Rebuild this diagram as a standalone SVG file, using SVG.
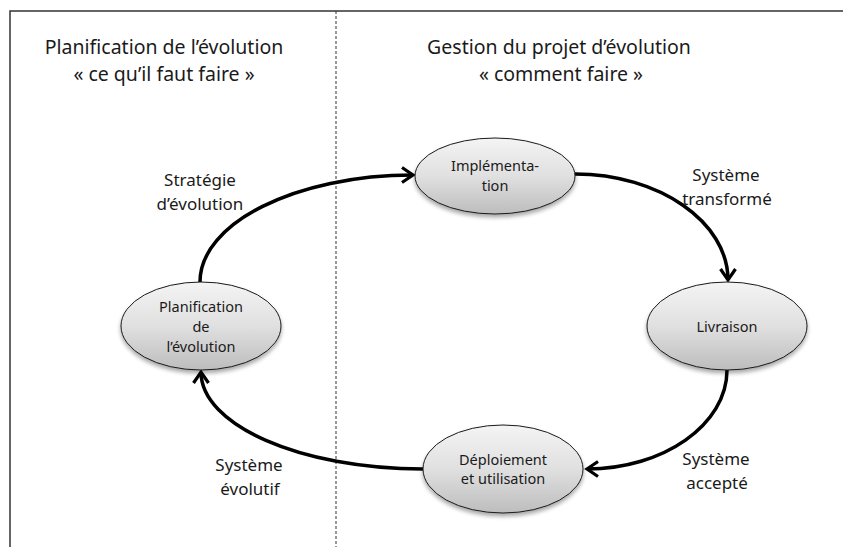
<svg xmlns="http://www.w3.org/2000/svg" width="843" height="547" viewBox="0 0 843 547">
<style>
  text { font-family: "Noto Sans", "Open Sans", "Liberation Sans", sans-serif; fill: #1a1a1a; text-anchor: middle; }
  .title { font-size: 19.5px; }
  .label { font-size: 17px; }
  .node-text { font-size: 14.5px; }
  .node ellipse { fill: url(#nodeGrad); stroke: #1a1a1a; stroke-width: 1; filter: url(#shadow); }
  .conn { fill: none; stroke: #000; stroke-width: 3.5; marker-end: url(#arrow); }
  .frame { stroke: #333; stroke-width: 1.5; fill: none; }
  .divider { stroke: #333; stroke-width: 1; stroke-dasharray: 3 2; fill: none; }
</style>
<defs>
  <linearGradient id="nodeGrad" x1="0" y1="0" x2="0" y2="1">
    <stop offset="0" stop-color="#f4f4f4"/>
    <stop offset="0.5" stop-color="#e0e0e0"/>
    <stop offset="1" stop-color="#bdbdbd"/>
  </linearGradient>
  <filter id="shadow" x="-20%" y="-20%" width="140%" height="150%">
    <feGaussianBlur in="SourceAlpha" stdDeviation="2"/>
    <feOffset dx="0" dy="3" result="b"/>
    <feComponentTransfer><feFuncA type="linear" slope="0.35"/></feComponentTransfer>
    <feMerge><feMergeNode/><feMergeNode in="SourceGraphic"/></feMerge>
  </filter>
  <marker id="arrow" markerUnits="userSpaceOnUse" markerWidth="20" markerHeight="20" viewBox="-14 -10 18 20" refX="0" refY="0" orient="auto">
    <path d="M-11,-7.5 L0,0 L-11,7.5" fill="none" stroke="#000" stroke-width="3.2" stroke-linejoin="miter"/>
  </marker>
</defs>
<rect width="843" height="547" fill="#fff"/>
<g id="frame">
  <path class="frame" d="M10,547 L10,11 L843,11"/>
  <path class="divider" d="M336,11 L336,547"/>
</g>
<g id="titles">
  <text class="title" x="164" y="54">Planification de l’évolution</text>
  <text class="title" x="164" y="81">« ce qu’il faut faire »</text>
  <text class="title" x="559" y="54">Gestion du projet d’évolution</text>
  <text class="title" x="561" y="81">« comment faire »</text>
</g>
<g id="connectors">
  <path class="conn" d="M200,282 C200,223 296,175 413,175"/>
  <path class="conn" d="M575,174 C659,174 728,222 728,280"/>
  <path class="conn" d="M727,370 C727,425 663,469 587,469"/>
  <path class="conn" d="M423,469 C300,469 201,425 201,372"/>
</g>
<g id="labels">
  <text class="label" x="200" y="186">Stratégie</text>
  <text class="label" x="200" y="210">d’évolution</text>
  <text class="label" x="726" y="181">Système</text>
  <text class="label" x="727" y="205">transformé</text>
  <text class="label" x="716" y="465">Système</text>
  <text class="label" x="717" y="489">accepté</text>
  <text class="label" x="249" y="471">Système</text>
  <text class="label" x="250" y="495">évolutif</text>
</g>
<g id="node-implementation" class="node">
  <ellipse cx="495" cy="176" rx="80" ry="38"/>
  <text class="node-text" x="495" y="171">Implémenta-</text>
  <text class="node-text" x="495" y="191">tion</text>
</g>
<g id="node-livraison" class="node">
  <ellipse cx="727" cy="326" rx="80" ry="44"/>
  <text class="node-text" x="727" y="332">Livraison</text>
</g>
<g id="node-deploiement" class="node">
  <ellipse cx="503" cy="469" rx="80" ry="44"/>
  <text class="node-text" x="503" y="465">Déploiement</text>
  <text class="node-text" x="503" y="484">et utilisation</text>
</g>
<g id="node-planification" class="node">
  <ellipse cx="201" cy="326" rx="80" ry="44"/>
  <text class="node-text" x="201" y="312">Planification</text>
  <text class="node-text" x="201" y="332">de</text>
  <text class="node-text" x="201" y="352">l’évolution</text>
</g>
</svg>
